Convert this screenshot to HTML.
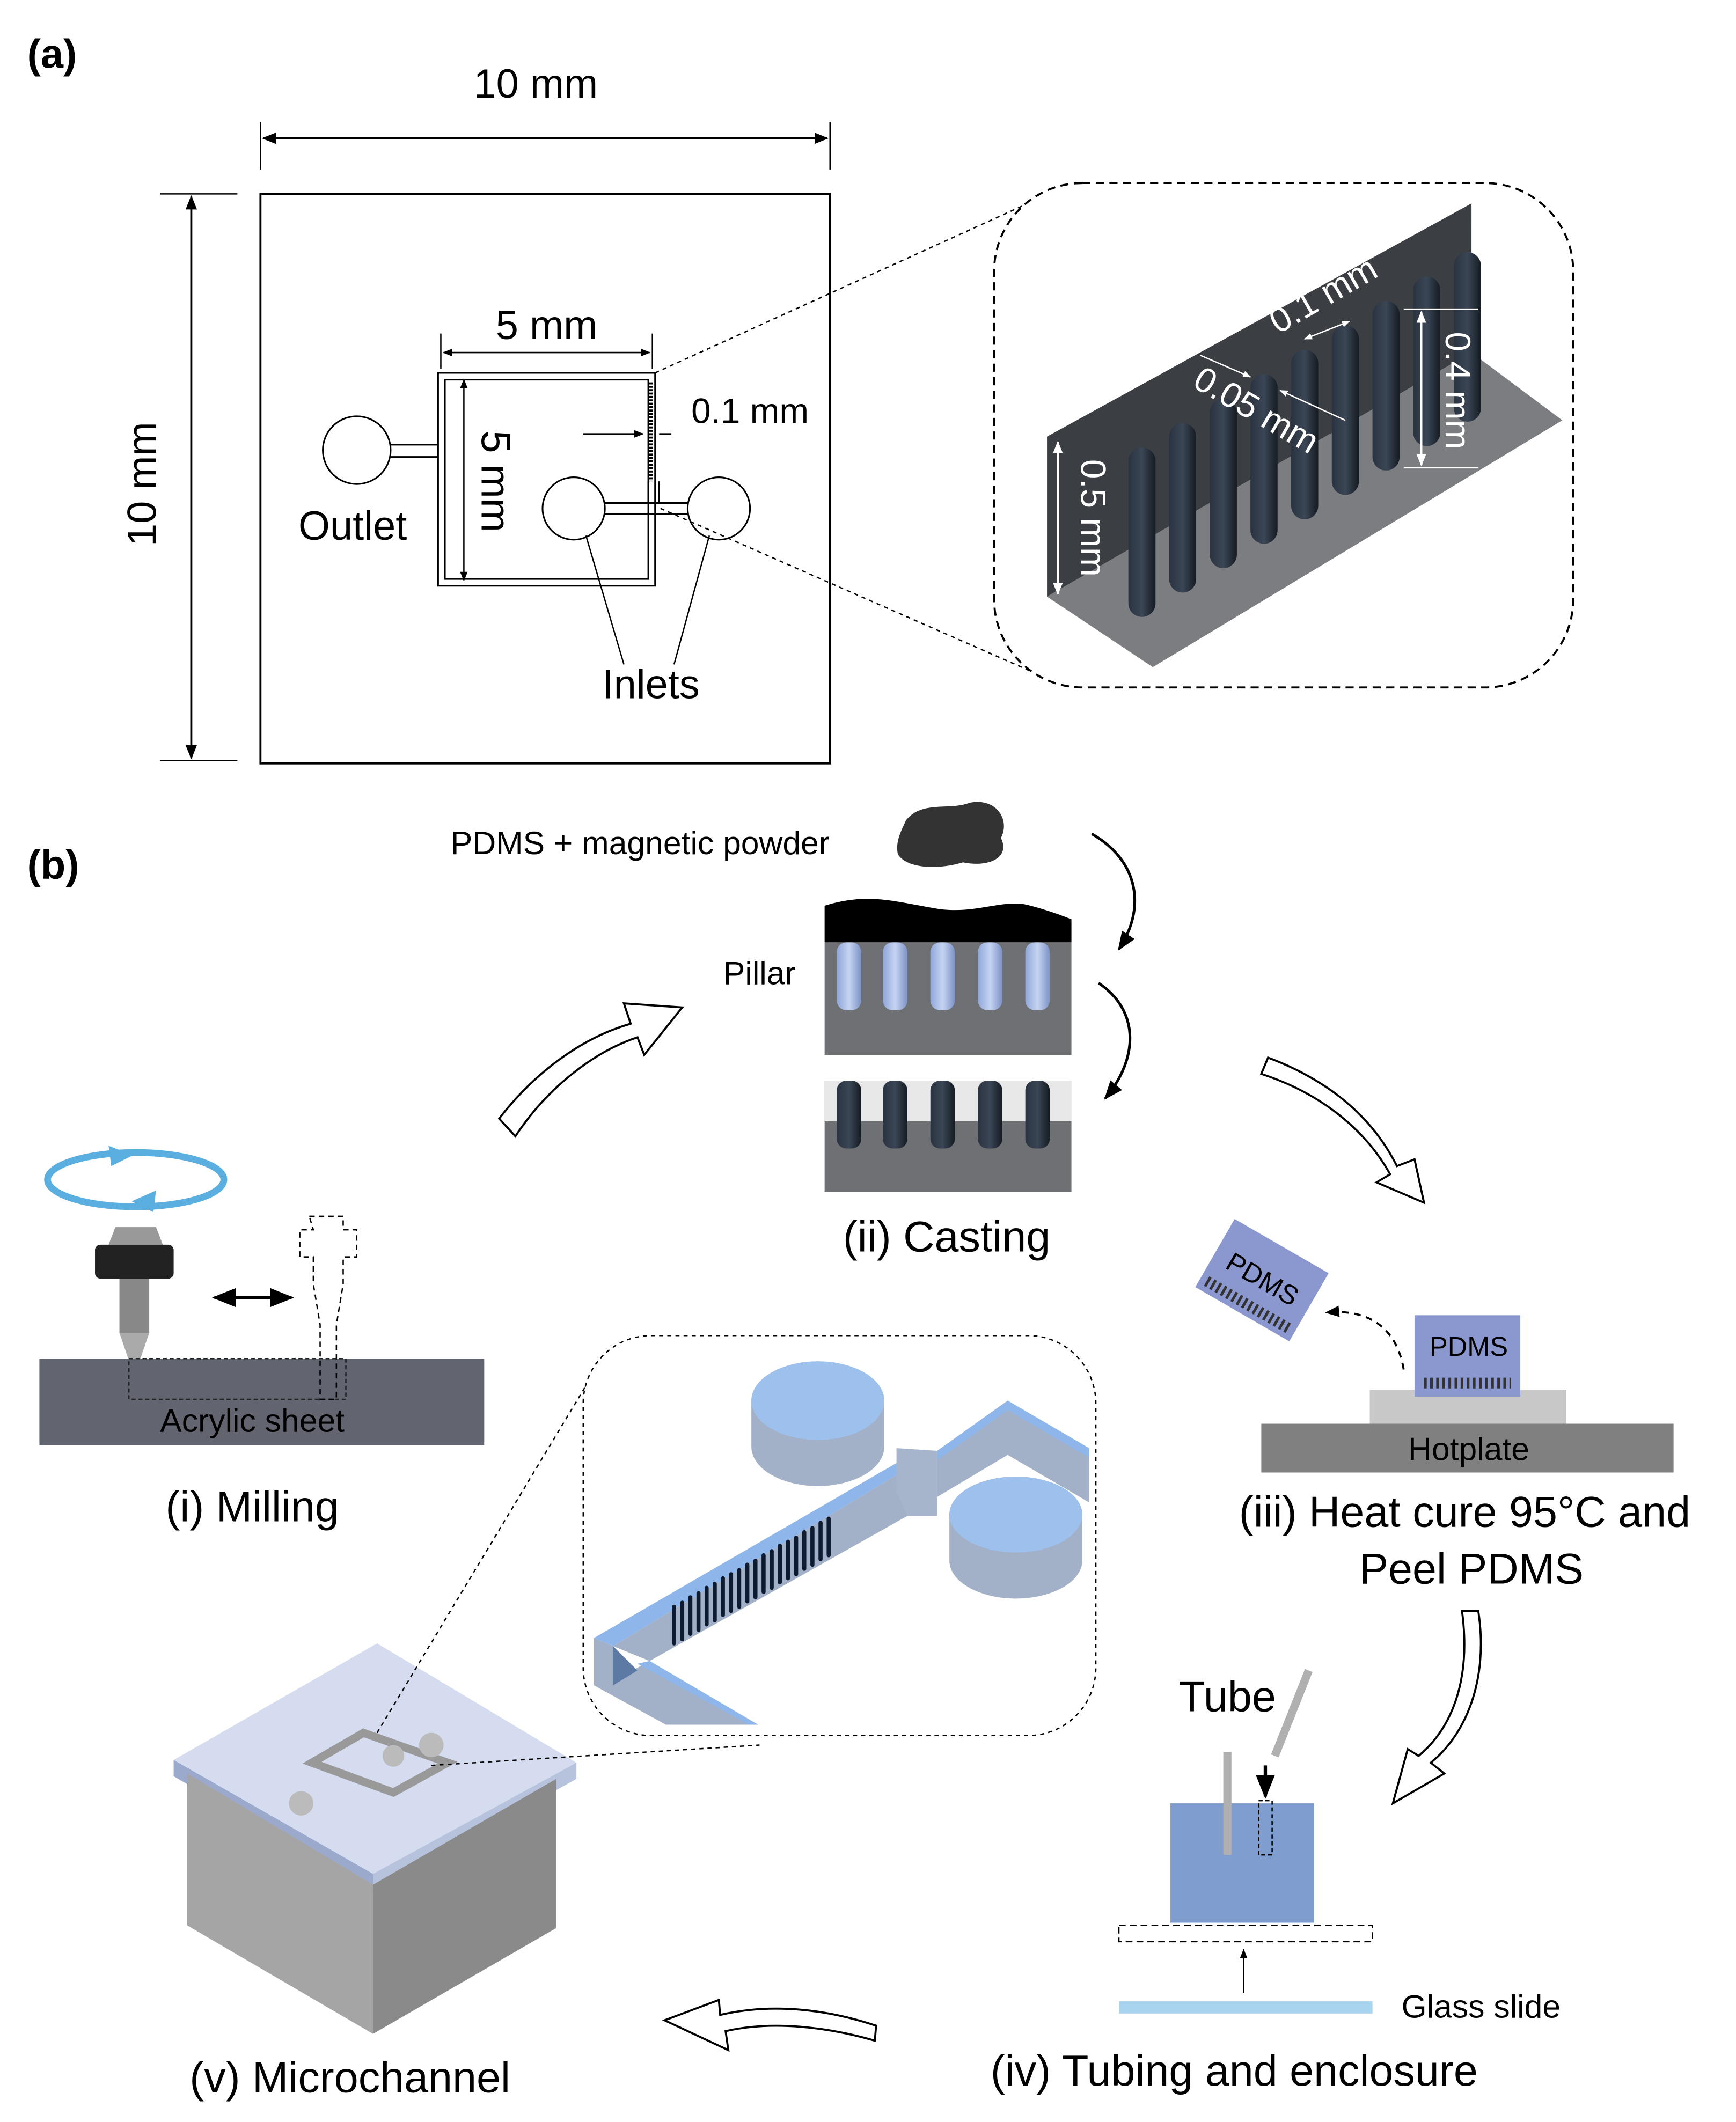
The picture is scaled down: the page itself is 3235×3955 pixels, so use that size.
<!DOCTYPE html>
<html><head><meta charset="utf-8"><style>html,body{margin:0;padding:0;background:#fff}svg{display:block}text{font-family:"Liberation Sans",sans-serif}</style></head><body>
<svg width="3235" height="3955" viewBox="0 0 1280 1565" xmlns="http://www.w3.org/2000/svg">
<defs>
<marker id="ah" viewBox="0 0 10 10" refX="9" refY="5" markerWidth="7" markerHeight="7" orient="auto-start-reverse"><path d="M0,1 L10,5 L0,9 z" fill="#000"/></marker>
<marker id="wh" viewBox="0 0 10 10" refX="9" refY="5" markerWidth="6" markerHeight="6" orient="auto-start-reverse"><path d="M0,1 L10,5 L0,9 z" fill="#fff"/></marker>
<linearGradient id="pil" x1="0" x2="1"><stop offset="0" stop-color="#2a3340"/><stop offset=".5" stop-color="#3b4656"/><stop offset="1" stop-color="#151b22"/></linearGradient>
<linearGradient id="bp" x1="0" x2="1"><stop offset="0" stop-color="#8fa6d8"/><stop offset=".5" stop-color="#c6d4f2"/><stop offset="1" stop-color="#7d93c6"/></linearGradient>
</defs>
<!-- (a) -->
<text x="20" y="50" font-size="30" font-weight="bold">(a)</text>
<text x="395" y="72" font-size="30" text-anchor="middle">10 mm</text>
<line x1="192" y1="90" x2="192" y2="125" stroke="#000"/><line x1="612" y1="90" x2="612" y2="125" stroke="#000"/>
<line x1="194" y1="102" x2="610" y2="102" stroke="#000" stroke-width="1.5" marker-start="url(#ah)" marker-end="url(#ah)"/>
<rect x="192" y="143" width="420" height="420" fill="none" stroke="#000" stroke-width="1.5"/>
<line x1="118" y1="143" x2="175" y2="143" stroke="#000"/><line x1="118" y1="561" x2="175" y2="561" stroke="#000"/>
<line x1="141" y1="145" x2="141" y2="559" stroke="#000" stroke-width="1.5" marker-start="url(#ah)" marker-end="url(#ah)"/>
<text transform="translate(115,357) rotate(-90)" font-size="30" text-anchor="middle">10 mm</text>
<rect x="323" y="275" width="160" height="157" fill="none" stroke="#000" stroke-width="1.2"/>
<rect x="328" y="280" width="150" height="147" fill="none" stroke="#000" stroke-width="1.2"/>
<line x1="480" y1="282" x2="480" y2="355" stroke="#000" stroke-width="3" stroke-dasharray="1.5 1"/>
<text x="403" y="250" font-size="30" text-anchor="middle">5 mm</text>
<line x1="325" y1="246" x2="325" y2="272" stroke="#000"/><line x1="481" y1="246" x2="481" y2="272" stroke="#000"/>
<line x1="327" y1="260" x2="479" y2="260" stroke="#000" marker-start="url(#ah)" marker-end="url(#ah)"/>
<line x1="342" y1="280" x2="342" y2="428" stroke="#000" marker-start="url(#ah)" marker-end="url(#ah)"/>
<text transform="translate(355,355) rotate(90)" font-size="30" text-anchor="middle">5 mm</text>
<circle cx="263" cy="332" r="25" fill="#fff" stroke="#000" stroke-width="1.2"/>
<path d="M288,328 H323 M288,337 H323" stroke="#000" stroke-width="1.2"/>
<text x="260" y="398" font-size="30" text-anchor="middle">Outlet</text>
<circle cx="423" cy="375" r="23" fill="#fff" stroke="#000" stroke-width="1.2"/>
<circle cx="530" cy="375" r="23" fill="#fff" stroke="#000" stroke-width="1.2"/>
<path d="M446,371 H507 M446,379 H507 M478,371 V355 M486,371 V355" stroke="#000" stroke-width="1.2"/>
<text x="480" y="515" font-size="30" text-anchor="middle">Inlets</text>
<line x1="460" y1="490" x2="432" y2="395" stroke="#000"/><line x1="497" y1="490" x2="523" y2="395" stroke="#000"/>
<text x="553" y="312" font-size="26" text-anchor="middle">0.1 mm</text>
<line x1="430" y1="320" x2="474" y2="320" stroke="#000" marker-end="url(#ah)"/>
<line x1="495" y1="320" x2="486" y2="320" stroke="#000"/>
<line x1="483" y1="275" x2="780" y2="140" stroke="#000" stroke-dasharray="3 3"/>
<line x1="487" y1="375" x2="760" y2="495" stroke="#000" stroke-dasharray="3 3"/>
<rect x="733" y="135" width="427" height="372" rx="65" fill="#fff" stroke="#000" stroke-width="1.5" stroke-dasharray="6 4"/>
<polygon points="772,322 1085,150 1085,260 772,440" fill="#3b3e43"/>
<polygon points="772,440 1085,260 1152,310 850,492" fill="#7b7d80"/>
<g>
<rect x="832" y="330" width="20" height="125" rx="10" fill="url(#pil)"/>
<rect x="862" y="312" width="20" height="125" rx="10" fill="url(#pil)"/>
<rect x="892" y="294" width="20" height="125" rx="10" fill="url(#pil)"/>
<rect x="922" y="276" width="20" height="125" rx="10" fill="url(#pil)"/>
<rect x="952" y="258" width="20" height="125" rx="10" fill="url(#pil)"/>
<rect x="982" y="240" width="20" height="125" rx="10" fill="url(#pil)"/>
<rect x="1012" y="222" width="20" height="125" rx="10" fill="url(#pil)"/>
<rect x="1042" y="204" width="20" height="125" rx="10" fill="url(#pil)"/>
<rect x="1072" y="186" width="20" height="125" rx="10" fill="url(#pil)"/>
</g>
<line x1="780" y1="326" x2="780" y2="438" stroke="#fff" stroke-width="1.5" marker-start="url(#wh)" marker-end="url(#wh)"/>
<text transform="translate(797,382) rotate(90)" font-size="26" fill="#fff" text-anchor="middle">0.5 mm</text>
<line x1="1048" y1="230" x2="1048" y2="343" stroke="#fff" stroke-width="1.5" marker-start="url(#wh)" marker-end="url(#wh)"/>
<line x1="1035" y1="228" x2="1090" y2="228" stroke="#fff"/><line x1="1035" y1="345" x2="1090" y2="345" stroke="#fff"/>
<text transform="translate(1066,288) rotate(90)" font-size="26" fill="#fff" text-anchor="middle">0.4 mm</text>
<text transform="translate(980,225) rotate(-30)" font-size="26" fill="#fff" text-anchor="middle">0.1 mm</text>
<line x1="962" y1="250" x2="995" y2="237" stroke="#fff" marker-start="url(#wh)" marker-end="url(#wh)"/>
<text transform="translate(922,310) rotate(30)" font-size="26" fill="#fff" text-anchor="middle">0.05 mm</text>
<line x1="885" y1="262" x2="922" y2="278" stroke="#fff" marker-end="url(#wh)"/>
<line x1="992" y1="310" x2="944" y2="288" stroke="#fff" marker-end="url(#wh)"/>
<!-- (b) -->
<text x="20" y="648" font-size="30" font-weight="bold">(b)</text>
<text x="472" y="630" font-size="24" text-anchor="middle">PDMS + magnetic powder</text>
<path d="M668,605 C680,590 700,598 715,592 C735,588 745,605 738,618 C745,632 730,640 710,636 C690,642 668,640 662,630 C660,620 665,612 668,605 z" fill="#333"/>
<path d="M805,615 C840,635 845,670 825,700" fill="none" stroke="#000" stroke-width="2" marker-end="url(#ah)"/>
<path d="M810,725 C840,745 840,780 815,810" fill="none" stroke="#000" stroke-width="2" marker-end="url(#ah)"/>
<path d="M608,668 C640,658 660,665 690,670 C720,675 740,662 760,668 C775,672 785,676 790,678 V695 H608 z" fill="#000"/>
<rect x="608" y="695" width="182" height="83" fill="#6f7073"/>
<g fill="url(#bp)">
<rect x="617" y="695" width="18" height="50" rx="7"/><rect x="651" y="695" width="18" height="50" rx="7"/><rect x="686" y="695" width="18" height="50" rx="7"/><rect x="721" y="695" width="18" height="50" rx="7"/><rect x="756" y="695" width="18" height="50" rx="7"/>
</g>
<text x="560" y="726" font-size="24" text-anchor="middle">Pillar</text>
<rect x="608" y="797" width="182" height="82" fill="#6f7073"/>
<rect x="608" y="797" width="182" height="30" fill="#e8e8e8"/>
<g fill="url(#pil)">
<rect x="617" y="797" width="18" height="50" rx="7"/><rect x="651" y="797" width="18" height="50" rx="7"/><rect x="686" y="797" width="18" height="50" rx="7"/><rect x="721" y="797" width="18" height="50" rx="7"/><rect x="756" y="797" width="18" height="50" rx="7"/>
</g>
<text x="698" y="923" font-size="32" text-anchor="middle">(ii) Casting</text>
<!-- hollow arrows -->
<g fill="#fff" stroke="#000" stroke-width="1.5">
<path d="M368,825 C395,790 430,765 465,755 L460,740 L503,743 L475,778 L470,765 C440,775 405,800 380,838 z"/>
<path d="M935,780 C975,795 1010,820 1030,860 L1043,855 L1050,887 L1015,872 L1025,866 C1005,830 970,805 930,792 z"/>
<path d="M1090,1188 C1098,1240 1080,1280 1055,1300 L1065,1308 L1027,1330 L1038,1290 L1046,1295 C1070,1275 1085,1240 1078,1188 z"/>
<path d="M645,1505 C610,1495 570,1490 535,1498 L537,1512 L490,1490 L530,1475 L531,1486 C570,1477 610,1482 646,1494 z"/>
</g>
<!-- milling -->
<ellipse cx="100" cy="870" rx="65" ry="20" fill="none" stroke="#5aaee0" stroke-width="5"/>
<path d="M80,845 L98,852 L82,860 z" fill="#5aaee0"/><path d="M115,878 L97,886 L113,894 z" fill="#5aaee0"/>
<path d="M85,905 L115,905 L120,918 L80,918 z" fill="#999"/>
<rect x="70" y="918" width="58" height="25" rx="4" fill="#222"/>
<rect x="88" y="943" width="22" height="40" fill="#888"/>
<path d="M88,983 L110,983 L99,1015 z" fill="#aaa"/>
<rect x="29" y="1002" width="328" height="64" fill="#626470"/>
<rect x="95" y="1002" width="160" height="30" fill="none" stroke="#222" stroke-dasharray="3 2"/>
<path d="M228,897 h25 v10 h10 v20 h-10 v20 l-5 30 v55 h-12 v-55 l-5 -30 v-20 h-10 v-20 h10 z" fill="none" stroke="#000" stroke-dasharray="4 3"/>
<line x1="158" y1="957" x2="215" y2="957" stroke="#000" stroke-width="2.5" marker-start="url(#ah)" marker-end="url(#ah)"/>
<text x="186" y="1056" font-size="24" text-anchor="middle">Acrylic sheet</text>
<text x="186" y="1122" font-size="32" text-anchor="middle">(i) Milling</text>
<!-- heat cure -->
<rect x="930" y="1050" width="304" height="36" fill="#808080"/>
<rect x="1010" y="1025" width="145" height="25" fill="#c8c8c8"/>
<rect x="1043" y="970" width="78" height="60" fill="#8b98cf"/>
<line x1="1050" y1="1020" x2="1114" y2="1020" stroke="#333" stroke-dasharray="2 2.5" stroke-width="8"/>
<text x="1083" y="1000" font-size="20" text-anchor="middle">PDMS</text>
<text x="1083" y="1077" font-size="24" text-anchor="middle">Hotplate</text>
<g transform="translate(930,945) rotate(30)"><rect x="-40" y="-30" width="80" height="58" fill="#8b98cf"/><line x1="-35" y1="20" x2="35" y2="20" stroke="#333" stroke-width="8" stroke-dasharray="2 2.5"/><text x="0" y="5" font-size="20" text-anchor="middle">PDMS</text></g>
<path d="M1035,1010 C1030,980 1010,965 978,968" fill="none" stroke="#000" stroke-width="1.5" stroke-dasharray="5 4" marker-end="url(#ah)"/>
<text x="1080" y="1126" font-size="32" text-anchor="middle">(iii) Heat cure 95°C and</text>
<text x="1085" y="1168" font-size="32" text-anchor="middle">Peel PDMS</text>
<!-- tubing -->
<text x="905" y="1262" font-size="32" text-anchor="middle">Tube</text>
<line x1="965" y1="1232" x2="940" y2="1295" stroke="#b0b0b0" stroke-width="6"/>
<rect x="863" y="1330" width="106" height="88" fill="#7f9dcf"/>
<line x1="905" y1="1292" x2="905" y2="1368" stroke="#b0b0b0" stroke-width="6"/>
<rect x="928" y="1328" width="10" height="40" fill="none" stroke="#000" stroke-dasharray="3 2"/>
<line x1="933" y1="1302" x2="933" y2="1325" stroke="#000" stroke-width="2.5" marker-end="url(#ah)"/>
<rect x="825" y="1420" width="187" height="12" fill="none" stroke="#000" stroke-dasharray="5 3"/>
<line x1="917" y1="1470" x2="917" y2="1438" stroke="#000" marker-end="url(#ah)"/>
<rect x="825" y="1476" width="187" height="9" fill="#a8d4f0"/>
<text x="1092" y="1488" font-size="24" text-anchor="middle">Glass slide</text>
<text x="910" y="1538" font-size="32" text-anchor="middle">(iv) Tubing and enclosure</text>
<!-- microchannel -->
<polygon points="128,1298 278,1212 425,1300 275,1382" fill="#d5dcef"/>
<polygon points="128,1298 275,1382 275,1395 128,1310" fill="#9aa9cc"/>
<polygon points="275,1382 425,1300 425,1312 275,1395" fill="#b7c3dd"/>
<polygon points="138,1308 275,1390 275,1500 138,1420" fill="#a5a5a5"/>
<polygon points="275,1390 410,1312 410,1422 275,1500" fill="#8a8a8a"/>
<path d="M230,1300 L268,1278 L330,1300 L290,1322 z" fill="none" stroke="#999" stroke-width="6"/>
<circle cx="222" cy="1330" r="9" fill="#bbb"/><circle cx="318" cy="1287" r="9" fill="#bbb"/><circle cx="290" cy="1295" r="8" fill="#bbb"/>
<line x1="278" y1="1278" x2="438" y2="1012" stroke="#000" stroke-dasharray="3 3"/>
<line x1="318" y1="1302" x2="560" y2="1287" stroke="#000" stroke-dasharray="3 3"/>
<rect x="430" y="985" width="378" height="295" rx="50" fill="#fff" stroke="#000" stroke-dasharray="3 3"/>
<!-- inset channel -->
<g>
<polygon points="438,1243 491,1272 559,1272 479,1225 452,1240" fill="#a2b1c8"/>
<polygon points="479,1225 559,1272 552,1272 470,1227" fill="#8fb6ea"/>
<polygon points="438,1208 452,1214 452,1243 438,1243" fill="#a2b1c8"/>
<polygon points="452,1214 452,1243 470,1232" fill="#5d7aa5"/>
<polygon points="438,1208 661,1079 669,1083 452,1214" fill="#8fb6ea"/>
<polygon points="452,1214 669,1083 669,1118 479,1225" fill="#a2b1c8"/>
<polygon points="661,1068 691,1070 691,1118 669,1118 661,1100" fill="#a6b5cc"/>
<polygon points="691,1070 743,1033 803,1068 803,1108 743,1073 691,1104" fill="#a2b1c8"/>
<polygon points="691,1070 743,1033 803,1068 803,1075 743,1040 691,1077" fill="#8fb6ea"/>
<path d="M554,1033 A49,29 0 0 1 652,1033 V1067 A49,29 0 0 1 554,1067 z" fill="#a2b1c8"/>
<ellipse cx="603" cy="1033" rx="49" ry="29" fill="#9dc0ec"/>
<path d="M700,1117 A49,28 0 0 1 798,1117 V1151 A49,28 0 0 1 700,1151 z" fill="#a2b1c8"/>
<ellipse cx="749" cy="1117" rx="49" ry="28" fill="#9dc0ec"/>
<g stroke="#0d1a30" stroke-width="3" stroke-linecap="round">
<line x1="497" y1="1185" x2="497" y2="1212"/><line x1="503" y1="1182" x2="503" y2="1209"/><line x1="509" y1="1178" x2="509" y2="1205"/><line x1="515" y1="1175" x2="515" y2="1202"/><line x1="521" y1="1171" x2="521" y2="1198"/><line x1="527" y1="1168" x2="527" y2="1195"/><line x1="533" y1="1164" x2="533" y2="1191"/><line x1="539" y1="1161" x2="539" y2="1188"/><line x1="545" y1="1158" x2="545" y2="1185"/><line x1="551" y1="1154" x2="551" y2="1181"/><line x1="557" y1="1151" x2="557" y2="1178"/><line x1="563" y1="1147" x2="563" y2="1174"/><line x1="569" y1="1144" x2="569" y2="1171"/><line x1="575" y1="1140" x2="575" y2="1167"/><line x1="581" y1="1137" x2="581" y2="1164"/><line x1="587" y1="1134" x2="587" y2="1161"/><line x1="593" y1="1130" x2="593" y2="1157"/><line x1="599" y1="1127" x2="599" y2="1154"/><line x1="605" y1="1123" x2="605" y2="1150"/><line x1="611" y1="1120" x2="611" y2="1147"/>
</g>
</g>
<text x="258" y="1543" font-size="32" text-anchor="middle">(v) Microchannel</text>
</svg>
</body></html>
